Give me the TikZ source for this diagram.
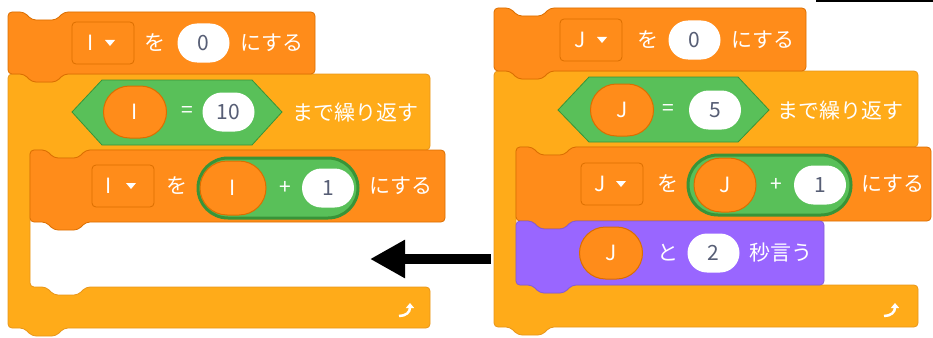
\documentclass[tikz,border=0pt]{standalone}
\usepackage{fontspec}
\setmainfont{Noto Sans CJK JP}
\usetikzlibrary{shapes.misc,arrows.meta}

\definecolor{varorange}{HTML}{FF8C1A}
\definecolor{vardark}{HTML}{DB6E00}
\definecolor{ctrlorange}{HTML}{FFAB19}
\definecolor{ctrldark}{HTML}{E8961A}
\definecolor{opgreen}{HTML}{59C059}
\definecolor{opdark}{HTML}{389438}
\definecolor{looksviolet}{HTML}{9966FF}
\definecolor{looksdark}{HTML}{855CD6}
\definecolor{inputtext}{HTML}{575E75}

\newcommand{\blockfont}{\fontsize{21}{21}\selectfont}

% stack block: left, top, right, bottom, style
\newcommand{\stackblock}[5]{%
  \draw[#5] (#1,#2) -- ({#1+16},#2) -- ({#1+24},{#2+8}) -- ({#1+48},{#2+8}) -- ({#1+56},#2) -- (#3,#2) -- (#3,#4)
    -- ({#1+56},#4) -- ({#1+48},{#4+8}) -- ({#1+24},{#4+8}) -- ({#1+16},#4) -- (#1,#4) -- cycle;}

% C block: left, top, right, mouth top, mouth bottom, bottom, style
\newcommand{\cblock}[7]{%
  \draw[#7] (#1,#2) -- ({#1+16},#2) -- ({#1+24},{#2+8}) -- ({#1+48},{#2+8}) -- ({#1+56},#2) -- (#3,#2) -- (#3,#4)
    -- ({#1+78},#4) -- ({#1+70},{#4+8}) -- ({#1+46},{#4+8}) -- ({#1+38},#4) -- ({#1+22},#4) -- ({#1+22},#5)
    -- ({#1+38},#5) -- ({#1+46},{#5+8}) -- ({#1+70},{#5+8}) -- ({#1+78},#5) -- (#3,#5) -- (#3,#6)
    -- ({#1+56},#6) -- ({#1+48},{#6+8}) -- ({#1+24},{#6+8}) -- ({#1+16},#6) -- (#1,#6) -- cycle;}

\tikzset{
  varblock/.style={rounded corners=4pt, fill=varorange, draw=vardark, line width=0.8pt},
  ctrlblock/.style={rounded corners=4pt, fill=ctrlorange, draw=ctrldark, line width=0.8pt},
  looksblock/.style={rounded corners=4pt, fill=looksviolet, draw=looksdark, line width=0.8pt},
  lbl/.style={text=white},
  numin/.style={rounded rectangle, fill=white, text=inputtext, minimum height=39pt, minimum width=52pt},
  varrep/.style={rounded rectangle, fill=varorange, draw=vardark, line width=1pt, text=white, minimum height=52pt, minimum width=63pt},
  oprep/.style={rounded rectangle, fill=opgreen, draw=opdark, line width=3pt, minimum height=60pt},
  boolhex/.style={fill=opgreen, draw=opdark, line width=0.8pt},
  ddbox/.style={rounded corners=4pt, fill=varorange, draw=vardark, line width=0.8pt, minimum width=62pt, minimum height=42pt},
  loopicon/.style={white, line width=2.5pt, -{Triangle[length=5pt,width=8pt]}},
  bigarrow/.style={black, line width=10pt, -{Triangle[length=35pt,width=36pt]}}
}

\begin{document}
\begin{tikzpicture}[x=1pt,y=-1pt, every node/.style={font=\blockfont, inner sep=0pt}]
\useasboundingbox (0,0) rectangle (933,337);

% Cropping edge at the top right
\draw [line width=2.5pt] (816,1) -- (933,1);%

% ---------------- Left script ----------------

% Drawing repeat block
\cblock{8}{74}{430}{150}{287}{328}{ctrlblock}%

% Drawing block "I to 0"
\stackblock{8}{12}{315}{74}{varblock}%
\node [ddbox] (idropa) at (103,43) {};%
\node [lbl] (inamea) at (91,43) {I};%
\fill [white] (105,40) -- (115,40) -- (110,46) -- cycle;%
\node [lbl] (iwoa) at (155,43) {を};%
\node [numin] (izero) at (203.5,43) {0};%
\node [lbl] (isuru) at (272,43) {にする};%

% Drawing condition I = 10
\draw [boolhex] (72,112) -- (102,80) -- (252,80) -- (282,112) -- (252,145) -- (102,145) -- cycle;%
\node [varrep] (ivarcond) at (135,112) {I};%
\node [lbl] (ieq) at (187,112) {=};%
\node [numin] (iten) at (228.5,112) {10};%
\node [lbl] (irepeat) at (355,112) {まで繰り返す};%

% Drawing block "I to I + 1"
\stackblock{30}{150}{445}{222}{varblock}%
\node [ddbox] (idropb) at (123,186) {};%
\node [lbl] (inameb) at (109,186) {I};%
\fill [white] (126,183) -- (136,183) -- (131,189) -- cycle;%
\node [lbl] (iwob) at (177,186) {を};%
\node [oprep, minimum width=160pt] (isum) at (278,188) {};%
\node [varrep, minimum height=54pt, minimum width=66pt] (ivarsum) at (233,188) {I};%
\node [lbl] (iplus) at (285,188) {+};%
\node [numin] (ione) at (328,188) {1};%
\node [lbl] (isurub) at (401,186) {にする};%

% Loop icon
\draw [loopicon] (399,316) .. controls (406,316) and (410,312) .. (410,303);%

% ---------------- Right script ----------------

% Drawing repeat block
\cblock{494}{71}{918}{147}{285}{327}{ctrlblock}%

% Drawing block "J to 0"
\stackblock{494}{8}{806}{71}{varblock}%
\node [ddbox] (jdropa) at (591,40) {};%
\node [lbl] (jnamea) at (580,40) {J};%
\fill [white] (597,37) -- (607,37) -- (602,43) -- cycle;%
\node [lbl] (jwoa) at (648,40) {を};%
\node [numin] (jzero) at (694.5,40) {0};%
\node [lbl] (jsuru) at (763,40) {にする};%

% Drawing condition J = 5
\draw [boolhex] (558,110) -- (589,77) -- (738,77) -- (769,110) -- (738,142) -- (589,142) -- cycle;%
\node [varrep] (jvarcond) at (622,110) {J};%
\node [lbl] (jeq) at (668,110) {=};%
\node [numin] (jfive) at (715,110) {5};%
\node [lbl] (jrepeat) at (840,110) {まで繰り返す};%

% Drawing block "J to J + 1"
\stackblock{516}{147}{931}{221}{varblock}%
\node [ddbox] (jdropb) at (612,184) {};%
\node [lbl] (jnameb) at (600,184) {J};%
\fill [white] (616,181) -- (626,181) -- (621,187) -- cycle;%
\node [lbl] (jwob) at (668,184) {を};%
\node [oprep, minimum width=163pt] (jsum) at (769.5,185) {};%
\node [varrep, minimum height=54pt, minimum width=62pt] (jvarsum) at (725,185) {J};%
\node [lbl] (jplus) at (776,185) {+};%
\node [numin] (jone) at (820,185) {1};%
\node [lbl] (jsurub) at (893,184) {にする};%

% Drawing block "say J for 2 seconds"
\stackblock{516}{221}{824}{285}{looksblock}%
\node [varrep] (jvarsay) at (611,253) {J};%
\node [lbl] (jto) at (668,253) {と};%
\node [numin] (jtwo) at (713.5,253) {2};%
\node [lbl] (jsay) at (781,253) {秒言う};%

% Loop icon
\draw [loopicon] (884,316) .. controls (891,316) and (895,312) .. (895,303);%

% ---------------- Arrow ----------------
\coordinate (arrowstart) at (491,259);%
\coordinate (arrowtip) at (370,259);%
\draw [bigarrow] (arrowstart) -- (arrowtip);%

\end{tikzpicture}
\end{document}
